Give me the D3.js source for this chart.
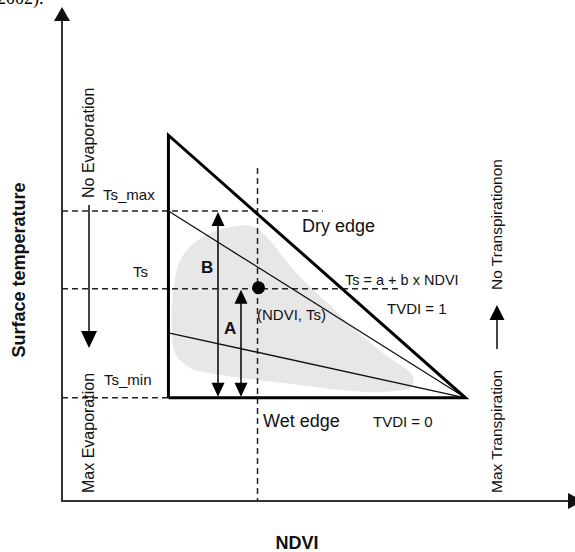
<!DOCTYPE html>
<html>
<head>
<meta charset="utf-8">
<script src="https://cdn.jsdelivr.net/npm/d3@7"></script>
<style>
  body { margin: 0; background: #fff; }
  svg { display: block; font-family: "Liberation Sans", Arial, sans-serif; }
</style>
</head>
<body>
<div id="chart"></div>
<script>
// triangle space (unitless NDVI 0..1, Ts 0..1)
var ndviEdges = [0.215, 0.815];          // left edge of the triangle, apex
var ndviObs = 0.395;                     // observed pixel NDVI
var tsTop = 0.748;                       // top of the dry edge
var tsMax = 0.593, tsObs = 0.434, tsMin = 0.211;
var tsIso = 0.344;                       // lower isoline start
var dashEnds = [0.527, 0.687];           // where Ts_max / Ts guides stop
var vGuideTop = 0.681;

// scatter cloud outline
var cloudNdvi = [0.222, 0.226, 0.240, 0.270, 0.310, 0.350, 0.385, 0.416, 0.451, 0.491, 0.541, 0.592, 0.653, 0.707, 0.707, 0.653, 0.562, 0.481, 0.400, 0.319, 0.259, 0.230];
var cloudTs   = [0.350, 0.440, 0.495, 0.530, 0.552, 0.562, 0.562, 0.538, 0.493, 0.448, 0.401, 0.350, 0.299, 0.258, 0.235, 0.223, 0.227, 0.237, 0.247, 0.258, 0.272, 0.299];

var W = 575, H = 552;
var x = d3.scaleLinear().domain([0, 1]).range([62, 557]);
var y = d3.scaleLinear().domain([0, 1]).range([501, 12]);

var svg = d3.select('#chart').append('svg')
  .attr('width', W)
  .attr('height', H);

function tri(px, py, dir, w, h) {
  // filled arrow head with tip at (px,py)
  var s = dir === 'up' ? 1 : -1;
  return 'M' + px + ',' + py + 'L' + (px - w / 2) + ',' + (py + s * h) + 'L' + (px + w / 2) + ',' + (py + s * h) + 'Z';
}

// cut-off caption text at the very top
svg.append('text')
  .attr('x', -3).attr('y', 4)
  .style('font-family', '"Liberation Serif", "Times New Roman", serif')
  .style('font-size', '18px')
  .text('2002).');

// cloud
var cloudPts = cloudNdvi.map(function(d, i) { return [x(d), y(cloudTs[i])]; });
svg.append('path')
  .attr('d', d3.line().curve(d3.curveCatmullRomClosed)(cloudPts))
  .attr('fill', '#e7e7e7');

// axes
var ax = svg.append('g').attr('stroke', '#333').attr('fill', '#333');
ax.append('line').attr('x1', x(0)).attr('y1', y(0)).attr('x2', x(0)).attr('y2', 20).attr('stroke-width', 2);
ax.append('path').attr('d', tri(x(0), 7, 'up', 16, 14)).attr('stroke', 'none').attr('fill', '#111');
ax.append('line').attr('x1', x(0) - 1).attr('y1', y(0)).attr('x2', 570).attr('y2', y(0)).attr('stroke-width', 2);
ax.append('path').attr('d', 'M' + 568 + ',' + (y(0) - 8) + 'L' + 583 + ',' + y(0) + 'L' + 568 + ',' + (y(0) + 8) + 'Z').attr('stroke', 'none').attr('fill', '#111');

// dashed guides
var dash = svg.append('g').attr('stroke', '#222').attr('stroke-width', 1.5).attr('stroke-dasharray', '6,4');
dash.append('line').attr('x1', x(0)).attr('x2', x(dashEnds[0])).attr('y1', y(tsMax)).attr('y2', y(tsMax));
dash.append('line').attr('x1', x(0)).attr('x2', x(dashEnds[1])).attr('y1', y(tsObs)).attr('y2', y(tsObs));
dash.append('line').attr('x1', x(0)).attr('x2', x(ndviEdges[0])).attr('y1', y(tsMin)).attr('y2', y(tsMin));
dash.append('line').attr('x1', x(ndviObs)).attr('x2', x(ndviObs)).attr('y1', y(vGuideTop)).attr('y2', y(0));

// isolines
var thin = svg.append('g').attr('stroke', '#111').attr('stroke-width', 1.3);
thin.append('line').attr('x1', x(ndviEdges[0])).attr('y1', y(tsMax)).attr('x2', x(ndviEdges[1])).attr('y2', y(tsMin));
thin.append('line').attr('x1', x(ndviEdges[0])).attr('y1', y(tsIso)).attr('x2', x(ndviEdges[1])).attr('y2', y(tsMin));

// triangle (dry edge, wet edge, left side)
svg.append('path')
  .attr('d', d3.line()([[x(ndviEdges[0]), y(tsMin)], [x(ndviEdges[0]), y(tsTop)], [x(ndviEdges[1]), y(tsMin)], [x(ndviEdges[0]), y(tsMin)]]))
  .attr('fill', 'none')
  .attr('stroke', '#000')
  .attr('stroke-width', 3)
  .attr('stroke-linejoin', 'miter');

// A and B double arrows
function dbl(px, yTop, yBot) {
  var g = svg.append('g');
  g.append('line').attr('x1', px).attr('x2', px).attr('y1', yTop + 10).attr('y2', yBot - 10)
    .attr('stroke', '#111').attr('stroke-width', 1.6);
  g.append('path').attr('d', tri(px, yTop + 1, 'up', 13, 14)).attr('fill', '#000');
  g.append('path').attr('d', tri(px, yBot - 1, 'down', 13, 14)).attr('fill', '#000');
}
dbl(218, y(tsMax), y(tsMin));
dbl(241, y(tsObs), y(tsMin));

// observed point
svg.append('circle').attr('cx', x(ndviObs) + 1).attr('cy', y(tsObs) - 1).attr('r', 6.5).attr('fill', '#000');

// side arrows
svg.append('line').attr('x1', 89).attr('x2', 89).attr('y1', 205).attr('y2', 334).attr('stroke', '#444').attr('stroke-width', 2);
svg.append('path').attr('d', tri(89, 348, 'down', 16, 17)).attr('fill', '#000');
svg.append('line').attr('x1', 497).attr('x2', 497).attr('y1', 349).attr('y2', 318).attr('stroke', '#444').attr('stroke-width', 2);
svg.append('path').attr('d', tri(497, 305, 'up', 15, 15)).attr('fill', '#000');

// labels
var labels = svg.append('g').attr('fill', '#111');
function txt(s, px, py, size, opts) {
  opts = opts || {};
  var t = labels.append('text').attr('x', px).attr('y', py).style('font-size', size + 'px').text(s);
  if (opts.bold) t.style('font-weight', 'bold');
  if (opts.anchor) t.attr('text-anchor', opts.anchor);
  return t;
}
function vtxt(s, px, py, size, anchor, bold) {
  var t = labels.append('text')
    .attr('transform', 'translate(' + px + ',' + py + ') rotate(-90)')
    .attr('text-anchor', anchor)
    .attr('dy', '0.35em')
    .style('font-size', size + 'px')
    .text(s);
  if (bold) t.style('font-weight', 'bold');
}

txt('Ts_max', 103, 200, 15);
txt('Ts', 133, 277, 15);
txt('Ts_min', 104, 385, 15);
txt('Dry edge', 302, 232, 18);
txt('Wet edge', 263, 427, 18);
txt('TVDI = 0', 373, 427, 15);
txt('Ts = a + b x NDVI', 345, 285, 14.5);
txt('TVDI = 1', 387, 314, 15);
txt('(NDVI, Ts)', 257, 320, 15);
txt('B', 201, 273, 17, {bold: true});
txt('A', 224, 334, 17, {bold: true});

vtxt('No Evaporation', 88, 198, 16, 'start');
vtxt('Max Evaporation', 88, 493, 16, 'start');
vtxt('No Transpirationon', 497, 290, 15.5, 'start');
vtxt('Max Transpiration', 497, 493, 15.5, 'start');
vtxt('Surface temperature', 19, 270, 18, 'middle', true);

txt('NDVI', 297, 549, 18, {bold: true, anchor: 'middle'});
</script>
</body>
</html>
